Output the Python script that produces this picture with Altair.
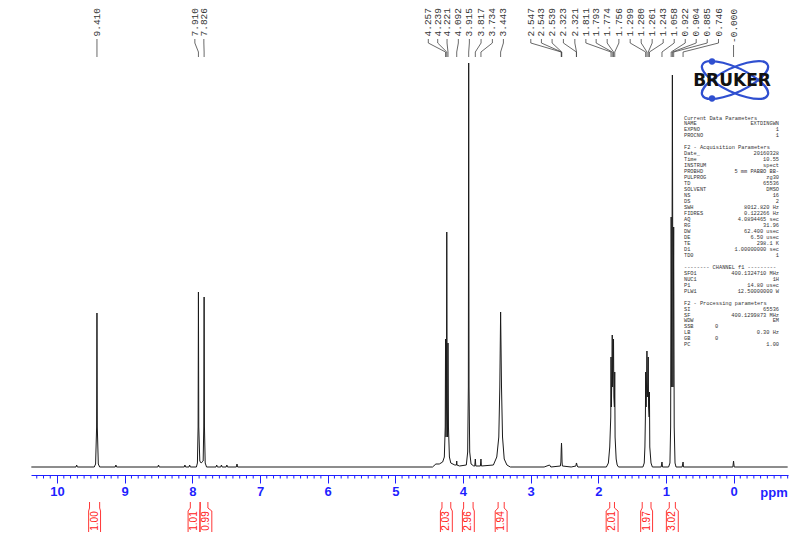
import altair as alt
import pandas as pd

# ---------------- data ----------------
# spectrum trace: (ppm, intensity) points
spectrum_points = [
    (10.38, 0), (9.72, 0), (9.71, 2), (9.70, 0),
    (9.45, 0), (9.43, 3), (9.415, 40), (9.410, 154), (9.405, 40), (9.39, 3), (9.37, 0),
    (9.14, 0), (9.13, 2), (9.12, 0), (8.51, 0), (8.50, 2), (8.49, 0),
    (8.12, 0), (8.11, 2), (8.10, 0), (8.05, 0), (8.04, 2), (8.03, 0),
    (7.94, 0), (7.925, 4), (7.915, 40), (7.910, 175), (7.905, 40), (7.89, 6), (7.87, 4),
    (7.84, 6), (7.831, 40), (7.826, 170), (7.821, 40), (7.81, 4), (7.79, 0),
    (7.65, 0), (7.64, 2), (7.63, 0), (7.58, 0), (7.57, 2), (7.56, 0),
    (7.50, 0), (7.49, 2), (7.48, 0), (7.35, 0), (7.34, 3), (7.33, 0),
    (4.45, 0), (4.40, 3), (4.35, 3), (4.30, 5), (4.275, 10), (4.262, 40), (4.257, 128),
    (4.250, 30), (4.244, 60), (4.239, 235), (4.233, 60), (4.226, 30), (4.221, 124),
    (4.214, 40), (4.20, 10), (4.18, 4), (4.12, 2), (4.095, 2), (4.092, 6), (4.089, 2),
    (4.05, 1), (3.95, 2), (3.93, 15), (3.92, 80), (3.915, 404), (3.91, 80), (3.90, 15),
    (3.88, 3), (3.84, 1), (3.825, 1), (3.817, 8), (3.81, 1), (3.742, 1), (3.734, 8),
    (3.727, 1), (3.55, 2), (3.50, 10), (3.47, 30), (3.455, 80), (3.443, 155), (3.43, 80),
    (3.415, 30), (3.39, 8), (3.35, 2), (3.30, 0),
    (2.80, 0), (2.72, 2), (2.70, 0), (2.56, 1), (2.552, 5), (2.547, 18), (2.543, 24),
    (2.539, 18), (2.535, 5), (2.53, 1), (2.40, 0), (2.33, 1), (2.323, 4), (2.321, 4),
    (2.31, 1), (2.30, 0),
    (1.88, 0), (1.85, 4), (1.83, 20), (1.815, 50), (1.811, 110), (1.806, 60), (1.797, 100),
    (1.793, 132), (1.788, 80), (1.779, 105), (1.774, 128), (1.769, 70), (1.761, 60),
    (1.756, 95), (1.751, 30), (1.735, 8), (1.72, 2), (1.70, 0),
    (1.34, 0), (1.32, 4), (1.31, 20), (1.303, 50), (1.299, 95), (1.293, 60), (1.284, 90),
    (1.280, 116), (1.275, 70), (1.266, 85), (1.261, 110), (1.256, 60), (1.247, 50),
    (1.243, 75), (1.238, 20), (1.22, 4), (1.20, 0),
    (1.07, 0), (1.058, 5), (1.05, 0),
    (0.96, 0), (0.94, 4), (0.93, 40), (0.922, 250), (0.913, 80), (0.904, 392), (0.895, 80),
    (0.885, 240), (0.877, 40), (0.865, 4), (0.85, 0),
    (0.76, 0), (0.746, 5), (0.74, 0), (0.01, 0), (0.0, 6), (-0.01, 0), (-0.80, 0),
]

# peak-pick labels and where the (spread out) label sits, in ppm
peak_labels = ["9.410", "7.910", "7.826",
               "4.257", "4.239", "4.221", "4.092", "3.915", "3.817", "3.734", "3.443",
               "2.547", "2.543", "2.539", "2.323", "2.321", "1.811", "1.793", "1.774",
               "1.756", "1.299", "1.280", "1.261", "1.243", "1.058", "0.922", "0.904",
               "0.885", "0.746", "-0.000"]
label_pos = [9.41, 7.963, 7.83,
             4.512, 4.373, 4.235, 4.068, 3.905, 3.732, 3.565, 3.402,
             2.997, 2.840, 2.682, 2.515, 2.346, 2.183, 2.031, 1.868,
             1.695, 1.528, 1.365, 1.203, 1.040, 0.877, 0.714, 0.552,
             0.389, 0.222, 0.0]

# integrals
int_labels = ["1.00", "1.01", "0.99", "2.03", "2.96", "1.94", "2.01", "1.97", "3.02"]
int_from = [9.52, 8.03, 7.885, 4.31, 3.99, 3.48, 1.83, 1.35, 0.95]
int_to = [9.37, 7.885, 7.77, 4.18, 3.85, 3.39, 1.76, 1.22, 0.86]
# where each label box sits (None = centred under its region)
box_center = [None, 7.975, 7.800, None, None, None, None, None, None]

major_ticks = list(range(0, 11))
minor_ticks = [round(i * 0.1, 1) for i in range(-8, 104) if i % 10 != 0]

param_rows = [
    ("Current Data Parameters", ""), ("NAME", "EXTDINGWN"), ("EXPNO", "1"), ("PROCNO", "1"),
    ("", ""),
    ("F2 - Acquisition Parameters", ""), ("Date_", "20160328"), ("Time", "10.55"),
    ("INSTRUM", "spect"), ("PROBHD", "5 mm PABBO BB-"), ("PULPROG", "zg30"), ("TD", "65536"),
    ("SOLVENT", "DMSO"), ("NS", "16"), ("DS", "2"), ("SWH", "8012.820 Hz"),
    ("FIDRES", "0.122266 Hz"), ("AQ", "4.0894465 sec"), ("RG", "31.96"),
    ("DW", "62.400 usec"), ("DE", "6.50 usec"), ("TE", "298.1 K"),
    ("D1", "1.00000000 sec"), ("TD0", "1"),
    ("", ""),
    ("-------- CHANNEL f1 ---------", ""), ("SFO1", "400.1324710 MHz"), ("NUC1", "1H"),
    ("P1", "14.80 usec"), ("PLW1", "12.50000000 W"),
    ("", ""),
    ("F2 - Processing parameters", ""), ("SI", "65536"), ("SF", "400.1299873 MHz"),
    ("WDW", "EM"), ("SSB", "0"), ("LB", "0.30 Hz"), ("GB", "0"), ("PC", "1.00"),
]

# ---------------- styling / layout ----------------
BLUE = "#1f1fff"
RED = "#ff2020"
LOGO_BLUE = "#2f4fd0"
PAGE_BASE = 467  # y-value units: v = 467 - page_y

xs = alt.Scale(domain=[-0.805, 10.385], reverse=True, nice=False, zero=False)
ys = alt.Scale(domain=[-8, 459], nice=False, zero=False)
x_axis = alt.Axis(values=major_ticks, format="d", tickSize=8, tickColor=BLUE, tickWidth=1,
                  domainColor=BLUE, domainWidth=1, labelColor=BLUE,
                  labelFont="Liberation Sans", labelFontSize=13, labelFontWeight="bold",
                  labelPadding=2, grid=False, labelFlush=False, labelOverlap=False)


def X(f):
    return alt.X(f, type="quantitative", scale=xs, axis=x_axis, title=None)


def Y(f):
    return alt.Y(f, type="quantitative", scale=ys, axis=None)


spec_df = pd.DataFrame(spectrum_points, columns=["ppm", "inten"])
spec_df["i"] = range(len(spec_df))

spectrum = alt.Chart(spec_df).mark_line(color="#1a1a1a", strokeWidth=1).encode(
    x=X("ppm"), y=Y("inten"), order=alt.Order("i:Q"))

minor_df = pd.DataFrame({"t": minor_ticks})
minor = alt.Chart(minor_df).mark_rule(color=BLUE, strokeWidth=1).encode(
    x=X("t"), y=alt.value(467), y2=alt.value(470.5))

# peak labels + leader lines
lab_df = pd.DataFrame({"lab": peak_labels, "pos": label_pos})
lab_df["v"] = [424 if s == "-0.000" else 430.5 for s in peak_labels]
labels = alt.Chart(lab_df).mark_text(angle=270, align="left", baseline="middle",
                                     font="Liberation Mono", fontSize=9.5,
                                     color="#333333").encode(
    x=X("pos"), y=Y("v"), text="lab:N")

lead_rows = []
for k, (lab, pos) in enumerate(zip(peak_labels, label_pos)):
    pk = float(lab)
    top = 422 if lab == "-0.000" else 428
    for j, (xx, vv) in enumerate([(pos, top), (pos, min(top, 424)), (pk, 415), (pk, 410)]):
        lead_rows.append({"k": k, "j": j, "x": xx, "v": vv})
lead_df = pd.DataFrame(lead_rows)
leaders = alt.Chart(lead_df).mark_line(color="#444444", strokeWidth=0.8).encode(
    x=X("x"), y=Y("v"), detail="k:N", order=alt.Order("j:Q"))

# integral brackets
HALF = 0.088
brk_rows = []
int_rows = []
for k, (lab, a, b, bc) in enumerate(zip(int_labels, int_from, int_to, box_center)):
    c = (a + b) / 2 if bc is None else bc
    for side, edge, box in (("L", a, c + HALF), ("R", b, c - HALF)):
        for j, (xx, vv) in enumerate([(edge, -35), (edge, -41), (box, -44), (box, -65)]):
            brk_rows.append({"g": f"{k}{side}", "j": j, "x": xx, "v": vv})
    int_rows.append({"lab": lab, "c": c, "v": -54})
brk_df = pd.DataFrame(brk_rows)
int_df = pd.DataFrame(int_rows)
brackets = alt.Chart(brk_df).mark_line(color=RED, strokeWidth=0.9).encode(
    x=X("x"), y=Y("v"), detail="g:N", order=alt.Order("j:Q"))
int_text = alt.Chart(int_df).mark_text(angle=270, align="center", baseline="middle",
                                       font="Liberation Sans", fontSize=10,
                                       color=RED).encode(
    x=X("c"), y=Y("v"), text="lab:N")

# note: alt.value x positions are measured from the plot-area's left edge
ppm_text = alt.Chart(pd.DataFrame({"t": ["ppm"]})).mark_text(
    font="Liberation Sans", fontSize=13, fontWeight="bold", color=BLUE,
    align="center", baseline="middle").encode(
    x=alt.value(743), y=alt.value(485), text="t:N")

# acquisition parameter block
prm = pd.DataFrame(param_rows, columns=["name", "val"])
prm["v"] = [PAGE_BASE - (117.5 + 5.97 * i) for i in range(len(prm))]
prm["special"] = prm["name"].isin(["SSB", "GB"])
pname = alt.Chart(prm).mark_text(align="left", baseline="middle", font="Liberation Mono",
                                 fontSize=5.3, color="#333333").encode(
    x=alt.value(653), y=Y("v"), text="name:N")
pval = alt.Chart(prm).transform_filter("!datum.special").mark_text(
    align="right", baseline="middle", font="Liberation Mono", fontSize=5.3,
    color="#333333").encode(x=alt.value(748), y=Y("v"), text="val:N")
pval2 = alt.Chart(prm).transform_filter("datum.special").mark_text(
    align="left", baseline="middle", font="Liberation Mono", fontSize=5.3,
    color="#333333").encode(x=alt.value(684), y=Y("v"), text="val:N")

# Bruker logo
ell1 = "M -0.906 -0.423 A 1 0.333 25 1 1 0.906 0.423 A 1 0.333 25 1 1 -0.906 -0.423 Z"
ell2 = "M -0.906 0.423 A 1 0.333 -25 1 1 0.906 -0.423 A 1 0.333 -25 1 1 -0.906 0.423 Z"
one = pd.DataFrame({"t": ["BRUKER"]})
LX, LY = 704, 72
orbit1 = alt.Chart(one).mark_point(shape=ell1, size=5184, filled=False, color=LOGO_BLUE,
                                   strokeWidth=2.2, opacity=1).encode(
    x=alt.value(LX), y=alt.value(LY))
orbit2 = alt.Chart(one).mark_point(shape=ell2, size=5184, filled=False, color=LOGO_BLUE,
                                   strokeWidth=2.2, opacity=1).encode(
    x=alt.value(LX), y=alt.value(LY))
dot1 = alt.Chart(one).mark_point(shape="circle", size=40, filled=True, color=LOGO_BLUE,
                                 opacity=1).encode(x=alt.value(LX - 23), y=alt.value(LY - 18.5))
dot2 = alt.Chart(one).mark_point(shape="circle", size=40, filled=True, color=LOGO_BLUE,
                                 opacity=1).encode(x=alt.value(LX - 23), y=alt.value(LY + 18.5))
logo_text = alt.Chart(one).mark_text(font="DejaVu Sans", fontSize=17, fontWeight="bold",
                                     color="#111111", align="center",
                                     baseline="middle").encode(
    x=alt.value(LX - 3), y=alt.value(LY + 0.5), text="t:N")

chart = alt.layer(
    spectrum, minor, leaders, labels, brackets, int_text, ppm_text,
    pname, pval, pval2, orbit1, orbit2, dot1, dot2, logo_text,
).properties(
    width=757, height=467,
    autosize=alt.AutoSizeParams(type="none"),
    padding={"left": 23, "top": 0, "right": 4, "bottom": 57},
    background="white",
).configure_view(stroke=None)

chart.save("out.html", embed_options={"renderer": "svg", "actions": False})
